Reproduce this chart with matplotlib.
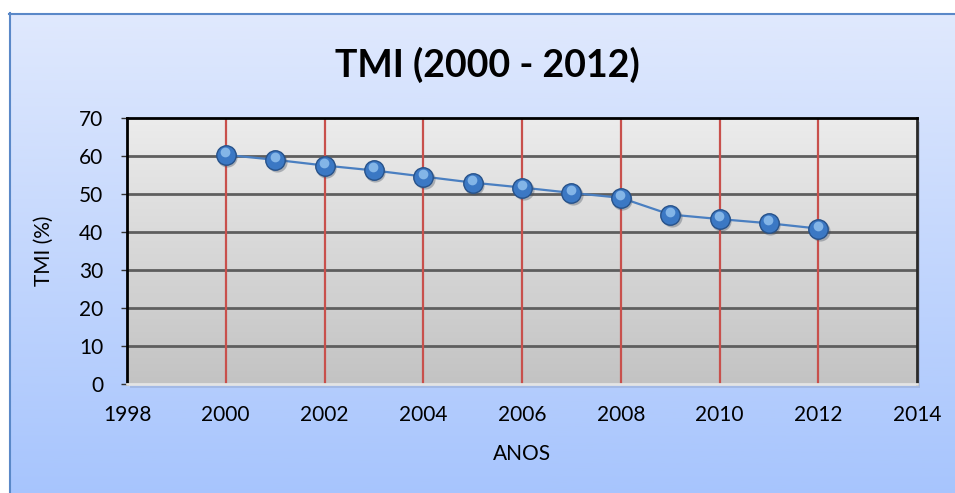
import numpy as np
import matplotlib.pyplot as plt
import matplotlib.transforms as mtransforms
from matplotlib.patches import Rectangle

# data
anos = [2000, 2001, 2002, 2003, 2004, 2005, 2006, 2007, 2008, 2009, 2010, 2011, 2012]
tmi = [60.3, 59.0, 57.5, 56.2, 54.6, 53.0, 51.7, 50.3, 49.0, 44.6, 43.4, 42.3, 40.9]
xticks = [1998, 2000, 2002, 2004, 2006, 2008, 2010, 2012, 2014]
yticks = [0, 10, 20, 30, 40, 50, 60, 70]

plt.rcParams['font.family'] = ['Lato', 'DejaVu Sans']

W, H = 955, 493
fig = plt.figure(figsize=(W / 100, H / 100), dpi=100)
fig.patch.set_facecolor('white')

# outer background with blue gradient (runs past right/bottom edges)
bg = fig.add_axes([9 / W, -0.02, 1 - 9 / W + 0.02, 1 - 13 / H + 0.02], zorder=-10)
grad = np.linspace(0, 1, 256).reshape(-1, 1)
top_c = np.array([0xe0, 0xe9, 0xfd]) / 255
bot_c = np.array([0xa6, 0xc4, 0xfd]) / 255
img = top_c * (1 - grad[..., None]) + bot_c * grad[..., None]
bg.imshow(img, aspect='auto', extent=[0, 1, 0, 1], origin='upper')
bg.set_xlim(0, 1)
bg.set_ylim(0, 1)
bg.axis('off')
bg.plot([0.0008, 0.0008], [0, 1], color='#5a88c8', lw=1.5, clip_on=False)
bg.plot([0, 1], [0.9985, 0.9985], color='#5a88c8', lw=1.5, clip_on=False)

left, right = 127 / W, 917 / W
bottom, top = 1 - 384 / H, 1 - 118 / H
ax = fig.add_axes([left, bottom, right - left, top - bottom])

# shadow of plot area
sh = Rectangle((left + 3 / W, bottom - 4 / H), right - left, top - bottom,
               transform=fig.transFigure, facecolor='#7f8fb0', alpha=0.3,
               zorder=-5, edgecolor='none')
fig.patches.append(sh)

# grey gradient inside the plot area
ax.set_xlim(1998, 2014)
ax.set_ylim(0, 70)
g2 = np.linspace(0, 1, 256).reshape(-1, 1)
c1 = np.array([0xec, 0xec, 0xec]) / 255
c2 = np.array([0xc3, 0xc3, 0xc3]) / 255
img2 = c1 * (1 - g2[..., None]) + c2 * g2[..., None]
ax.imshow(img2, aspect='auto', extent=[1998, 2014, 0, 70], origin='upper', zorder=0)

ax.set_xticks(xticks)
ax.set_yticks(yticks)
for yv in yticks[1:-1]:
    ax.axhline(yv, color='#5e5e5e', lw=2, zorder=1)
for xv in xticks[1:-1]:
    ax.axvline(xv, color='#c8504c', lw=1.6, zorder=1)

ax.plot(anos, tmi, color='#4a7fc1', lw=1.6, zorder=3)

# sphere-like markers: shadow, body, highlight
shadow_off = mtransforms.offset_copy(ax.transData, fig=fig, x=1.5, y=-2, units='dots')
ax.plot(anos, tmi, 'o', ms=14.5, color='#404a5a', alpha=0.35, mec='none',
        transform=shadow_off, zorder=4)
ax.plot(anos, tmi, 'o', ms=14, mfc='#3b78c4', mec='#27528a', mew=1.0, zorder=5)
hl_off = mtransforms.offset_copy(ax.transData, fig=fig, x=-0.5, y=3, units='dots')
ax.plot(anos, tmi, 'o', ms=7, color='#9ccaf3', alpha=0.75, mec='none',
        transform=hl_off, zorder=6)

for s in ['left', 'top']:
    ax.spines[s].set_color('black')
    ax.spines[s].set_linewidth(2)
ax.spines['right'].set_color('#2a2a2a')
ax.spines['right'].set_linewidth(2)
ax.spines['bottom'].set_color('#e4e4e4')
ax.spines['bottom'].set_linewidth(2)

ax.tick_params(axis='x', length=0, pad=15, labelsize=15)
ax.tick_params(axis='y', length=4, width=1, color='#333333', direction='out',
               pad=13, labelsize=15)

ax.set_xlabel('ANOS', fontsize=15, labelpad=14)
ax.set_ylabel('TMI (%)', fontsize=15, labelpad=18)
fig.text(487 / W, 1 - 65 / H, 'TMI (2000 - 2012)', ha='center', va='center',
         fontsize=27, fontweight='bold')

fig.savefig('out.png', dpi=100)
